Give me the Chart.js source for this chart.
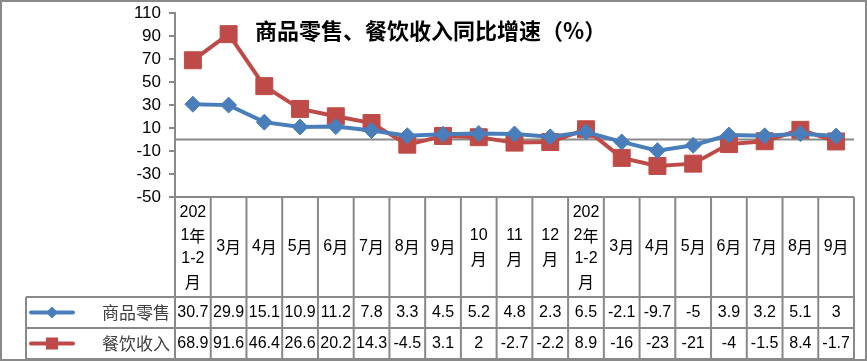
<!DOCTYPE html>
<html>
<head>
<meta charset="utf-8">
<script src="https://cdn.jsdelivr.net/npm/chart.js@4.4.0/dist/chart.umd.min.js"></script>
<style>
  body { margin: 0; background: #fff; }
  #wrap { width: 867px; height: 361px; position: relative; }
</style>
</head>
<body>
<div id="wrap"><canvas id="chart"></canvas></div>
<script>
const title = '商品零售、餐饮收入同比增速（%）';
const categories = [
  ['202', '1年', '1-2', '月'], ['3月'], ['4月'], ['5月'], ['6月'], ['7月'], ['8月'], ['9月'],
  ['10', '月'], ['11', '月'], ['12', '月'],
  ['202', '2年', '1-2', '月'], ['3月'], ['4月'], ['5月'], ['6月'], ['7月'], ['8月'], ['9月'],
];
const seriesNames = ['商品零售', '餐饮收入'];
const retail = [30.7, 29.9, 15.1, 10.9, 11.2, 7.8, 3.3, 4.5, 5.2, 4.8, 2.3, 6.5, -2.1, -9.7, -5, 3.9, 3.2, 5.1, 3];
const catering = [68.9, 91.6, 46.4, 26.6, 20.2, 14.3, -4.5, 3.1, 2, -2.7, -2.2, 8.9, -16, -23, -21, -4, -1.5, 8.4, -1.7];
const yTicks = [110, 90, 70, 50, 30, 10, -10, -30, -50];

const BLUE = '#4A7EBB';
const RED = '#BE4B48';
const GRID = '#898989';
const NUM_FONT = '16px "Liberation Sans", Arial, sans-serif';
const CJK_FONT = '16px "Noto Sans CJK SC", sans-serif';

// draws zero line, title, data table and outer frame
const tablePlugin = {
  id: 'dataTable',
  beforeDatasetsDraw(chart) {
    const { ctx, chartArea, scales } = chart;
    const y0 = scales.y.getPixelForValue(0);
    ctx.save();
    ctx.strokeStyle = GRID;
    ctx.lineWidth = 2;
    ctx.beginPath();
    ctx.moveTo(chartArea.left, y0);
    ctx.lineTo(chartArea.right, y0);
    ctx.stroke();
    ctx.restore();
  },
  afterDraw(chart) {
    const { ctx, chartArea, scales } = chart;
    const x = scales.x;
    const colW = x.getPixelForValue(1) - x.getPixelForValue(0);
    const top = chartArea.bottom;
    const headBottom = top + 100;
    const rowH = 31;
    const bottom = headBottom + rowH * 2;
    const legendLeft = 26;

    ctx.save();
    // title
    ctx.fillStyle = '#000';
    ctx.font = 'bold 22px "Noto Sans CJK SC", sans-serif';
    ctx.textAlign = 'left';
    ctx.textBaseline = 'middle';
    ctx.fillText(title, 255, 31);

    // grid of table
    ctx.strokeStyle = GRID;
    ctx.lineWidth = 2;
    ctx.beginPath();
    ctx.moveTo(chartArea.left, top);
    ctx.lineTo(chartArea.right, top);
    for (let i = 0; i <= categories.length; i++) {
      const bx = chartArea.left + i * colW;
      ctx.moveTo(bx, top);
      ctx.lineTo(bx, bottom);
    }
    [headBottom, headBottom + rowH, bottom].forEach((yy) => {
      ctx.moveTo(legendLeft, yy);
      ctx.lineTo(chartArea.right, yy);
    });
    ctx.moveTo(legendLeft, headBottom);
    ctx.lineTo(legendLeft, bottom);
    ctx.stroke();

    // category headers
    ctx.textAlign = 'center';
    ctx.fillStyle = '#000';
    const lineH = 23;
    categories.forEach((lines, i) => {
      const cx = x.getPixelForValue(i);
      const startY = (top + headBottom) / 2 - (lines.length - 1) * lineH / 2;
      lines.forEach((line, j) => {
        drawMixed(ctx, line, cx, startY + j * lineH);
      });
    });

    // values
    [retail, catering].forEach((series, r) => {
      const cy = headBottom + rowH * r + rowH / 2;
      series.forEach((v, i) => {
        ctx.font = NUM_FONT;
        ctx.fillText(String(v), x.getPixelForValue(i), cy);
      });
    });

    // legend keys
    const colors = [BLUE, RED];
    seriesNames.forEach((name, r) => {
      const cy = headBottom + rowH * r + rowH / 2;
      ctx.strokeStyle = colors[r];
      ctx.fillStyle = colors[r];
      ctx.lineWidth = 4;
      ctx.lineCap = 'round';
      ctx.beginPath();
      ctx.moveTo(31, cy);
      ctx.lineTo(73, cy);
      ctx.stroke();
      ctx.beginPath();
      if (r === 0) {
        ctx.moveTo(52, cy - 6);
        ctx.lineTo(58, cy);
        ctx.lineTo(52, cy + 6);
        ctx.lineTo(46, cy);
        ctx.closePath();
        ctx.fill();
      } else {
        ctx.fillRect(46, cy - 6, 12, 12);
      }
      ctx.fillStyle = '#404040';
      ctx.font = CJK_FONT.replace('16px', '17px');
      ctx.textAlign = 'right';
      ctx.fillText(name, 170, cy);
      ctx.textAlign = 'center';
    });

    // outer frame
    ctx.strokeStyle = GRID;
    ctx.lineWidth = 2;
    ctx.strokeRect(1, 1, chart.width - 2, chart.height - 2);
    ctx.restore();
  },
};

// numbers in latin font, CJK chars in CJK font
function drawMixed(ctx, text, cx, cy) {
  const parts = text.split(/([年月])/).filter((p) => p);
  const fonts = parts.map((p) => (/[年月]/.test(p) ? CJK_FONT : NUM_FONT));
  const widths = parts.map((p, i) => { ctx.font = fonts[i]; return ctx.measureText(p).width; });
  let px = cx - widths.reduce((a, b) => a + b, 0) / 2;
  ctx.textAlign = 'left';
  parts.forEach((p, i) => {
    ctx.font = fonts[i];
    ctx.fillText(p, px, cy);
    px += widths[i];
  });
  ctx.textAlign = 'center';
}

new Chart(document.getElementById('chart'), {
  type: 'line',
  data: {
    labels: categories.map((c) => c.join('')),
    datasets: [
      {
        label: seriesNames[0],
        data: retail,
        borderColor: BLUE,
        backgroundColor: BLUE,
        borderWidth: 4,
        pointStyle: 'rectRot',
        pointRadius: 8,
        pointBorderWidth: 1,
        pointBorderColor: BLUE,
        pointBackgroundColor: BLUE,
        tension: 0,
      },
      {
        label: seriesNames[1],
        data: catering,
        borderColor: RED,
        backgroundColor: RED,
        borderWidth: 4,
        pointStyle: 'rect',
        pointRadius: 12,
        pointBorderWidth: 1,
        pointBorderColor: RED,
        pointBackgroundColor: RED,
        tension: 0,
      },
    ],
  },
  options: {
    responsive: true,
    maintainAspectRatio: false,
    animation: false,
    events: [],
    layout: { padding: { left: 0, top: 13, right: 10, bottom: 164 } },
    scales: {
      x: {
        display: false,
        offset: true,
      },
      y: {
        min: -50,
        max: 110,
        afterFit(scale) {
          scale.width = 175;
          scale.paddingTop = 0;
          scale.paddingBottom = 0;
        },
        afterBuildTicks(scale) {
          scale.ticks = yTicks.map((v) => ({ value: v }));
        },
        border: { display: true, color: GRID, width: 2 },
        grid: {
          drawOnChartArea: false,
          drawTicks: true,
          tickLength: 6,
          tickColor: GRID,
          lineWidth: 2,
        },
        ticks: {
          autoSkip: false,
          color: '#000',
          padding: 8,
          font: { family: '"Liberation Sans", Arial, sans-serif', size: 17 },
        },
      },
    },
    plugins: {
      legend: { display: false },
      title: { display: false },
      tooltip: { enabled: false },
    },
  },
  plugins: [tablePlugin],
});
</script>
</body>
</html>
